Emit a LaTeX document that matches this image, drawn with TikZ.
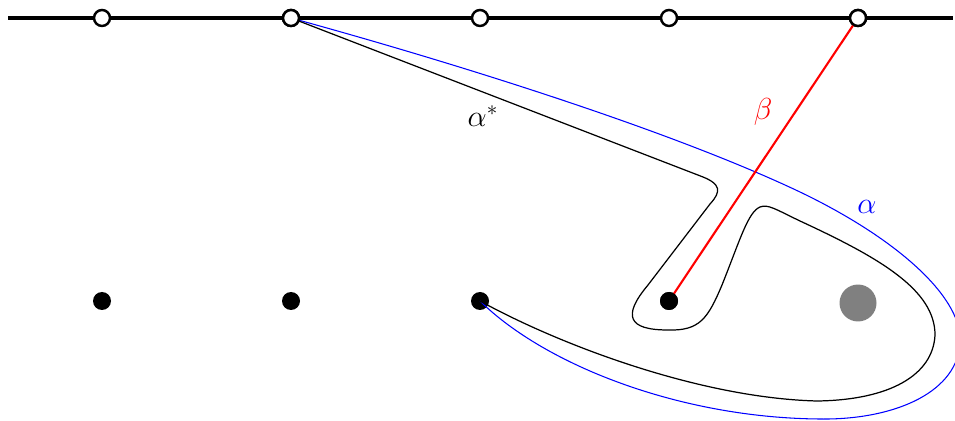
\documentclass[tikz,border=0pt]{standalone}
\usepackage{amsmath,amssymb}
\usepackage{xcolor}
\definecolor{brdGray}{RGB}{128,128,128}
\usetikzlibrary{arrows.meta,positioning,calc}

\begin{document}
\begin{tikzpicture}[
  x=0.02cm, y=-0.02cm,
  font=\LARGE,
  puncture/.style={circle, draw, line width=1.4pt, fill=white, inner sep=0pt, minimum size=0.32cm},
  marked/.style={circle, fill=black, inner sep=0pt, minimum size=0.36cm},
  hole/.style={circle, fill=brdGray, inner sep=0pt, minimum size=0.74cm},
  arcstar/.style={line width=0.7pt, black},
  arcblue/.style={line width=0.6pt, blue},
]
  % Scale: 1 unit = 1px of the 955x421 frame, y grows downwards
  \useasboundingbox (0,0) rectangle (955,421);

  % Boundary line with punctures
  \coordinate (lend) at (8,18);
  \coordinate (rend) at (953,18);
  \draw[line width=2pt] (lend) -- (rend);
  \foreach \i/\x in {1/102,2/291,3/480,4/669,5/858} {
    \node[puncture] (t\i) at (\x,18) {};
  }

  % Marked points and the hole
  \foreach \i/\x in {1/102,2/291,3/480,4/669} {
    \node[marked] (p\i) at (\x,301) {};
  }
  \node[hole] (g) at (858,303) {};

  % Arc alpha (blue)
  \draw[arcblue] (t2.center)
    .. controls (480,70) and (680,135) .. (800,192)
    .. controls (900,240) and (965,300) .. (960,345)
    .. controls (955,395) and (890,420) .. (820,419)
    .. controls (680,418) and (545,365) .. (p3.center);

  % Arc alpha^* (black)
  \draw[arcstar] (t2.center) -- (703,177)
    .. controls (720,184) and (722,191) .. (710,204)
    -- (648,285)
    .. controls (622,316) and (628,330) .. (668,330)
    .. controls (700,331) and (708,318) .. (722,285)
    .. controls (740,240) and (748,212) .. (760,207)
    .. controls (768,204) and (775,209) .. (800,221)
    .. controls (880,258) and (935,290) .. (935,335)
    .. controls (933,375) and (890,400) .. (817,401)
    .. controls (700,398) and (560,345) .. (p3.center);

  % Arc beta (red)
  \draw[red, line width=1.2pt] (p4.center) -- (t5.center);
  \node[marked] at (p4) {};
  \node[puncture] at (t5) {};
  \node[puncture] at (t2) {};

  % Labels
  \node (lastar) at (483,116) {$\alpha^*$};
  \node[text=red] (lbeta) at (763,112) {$\beta$};
  \node[text=blue] (lalpha) at (867,207) {$\alpha$};

\end{tikzpicture}
\end{document}
